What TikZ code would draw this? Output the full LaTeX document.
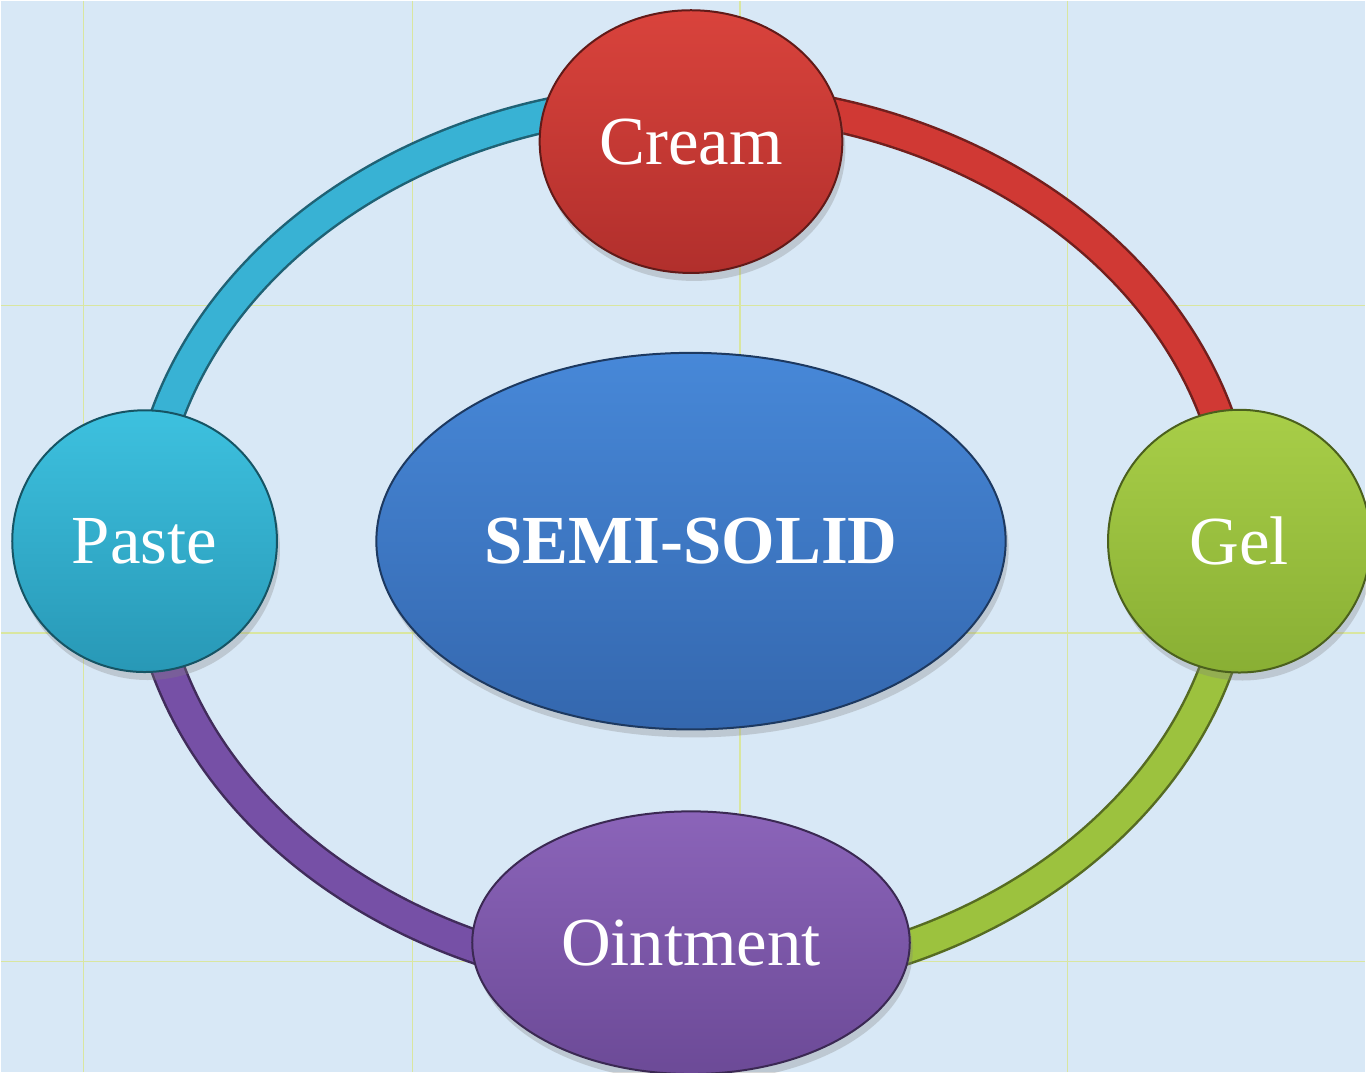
\documentclass[tikz,border=0pt]{standalone}
\usepackage{fontspec}
\setmainfont{Liberation Serif}
\usepackage{xcolor}
\usepackage{tikz}
\usetikzlibrary{arrows,shapes,positioning,shadows}
\definecolor{paper}{HTML}{D8E8F6}
\definecolor{gridtint}{HTML}{D9E6A0}
\definecolor{creamtop}{HTML}{D9433C}
\definecolor{creambot}{HTML}{B12F2C}
\definecolor{geltop}{HTML}{A8CE48}
\definecolor{gelbot}{HTML}{89AF34}
\definecolor{pastetop}{HTML}{3DC1DF}
\definecolor{pastebot}{HTML}{2898B6}
\definecolor{ointtop}{HTML}{8B64B9}
\definecolor{ointbot}{HTML}{6C4A97}
\definecolor{semitop}{HTML}{4788D8}
\definecolor{semibot}{HTML}{3467AE}
\definecolor{ringred}{HTML}{D03934}
\definecolor{ringgreen}{HTML}{9CC23E}
\definecolor{ringpurple}{HTML}{7650A6}
\definecolor{ringcyan}{HTML}{38B2D4}
\pgfdeclarelayer{paperlayer}
\pgfdeclarelayer{ringlayer}
\pgfsetlayers{paperlayer,ringlayer,main}
\tikzstyle{disc} = [ellipse, draw, line width=0.2mm, inner sep=0pt,
    drop shadow={opacity=0.3, shadow xshift=0.3mm, shadow yshift=-0.8mm}]
\tikzstyle{creamdisc} = [disc, top color=creamtop, bottom color=creambot,
    draw=creambot!55!black, minimum width=30.3mm, minimum height=26.3mm]
\tikzstyle{geldisc} = [disc, top color=geltop, bottom color=gelbot,
    draw=gelbot!55!black, minimum width=26.3mm, minimum height=26.3mm]
\tikzstyle{pastedisc} = [disc, top color=pastetop, bottom color=pastebot,
    draw=pastebot!55!black, minimum width=26.5mm, minimum height=26.2mm]
\tikzstyle{ointdisc} = [disc, top color=ointtop, bottom color=ointbot,
    draw=ointbot!55!black, minimum width=43.8mm, minimum height=26.3mm]
\tikzstyle{semidisc} = [disc, top color=semitop, bottom color=semibot,
    draw=semibot!55!black, minimum width=63mm, minimum height=37.7mm]
\tikzstyle{tube} = [line width=0.25mm, double distance=3mm]
\tikzstyle{gridline} = [draw=gridtint, line width=0.15mm]

\begin{document}
\begin{tikzpicture}[x=0.1mm, y=0.1mm]
\tikzstyle{every node}=[font=\fontsize{19.6}{24}\selectfont, text=white]
    % Paper and faint grid
    \begin{pgfonlayer}{paperlayer}
    \fill [paper] (0,0) rectangle (1366,-1072);
    \path [gridline] (83,0) -- (83,-1072);
    \path [gridline] (412,0) -- (412,-1072);
    \path [gridline] (740,0) -- (740,-1072);
    \path [gridline] (1068,0) -- (1068,-1072);
    \path [gridline] (0,-305) -- (1366,-305);
    \path [gridline] (0,-633) -- (1366,-633);
    \path [gridline] (0,-962) -- (1366,-962);
    \end{pgfonlayer}
    \useasboundingbox (0,0) rectangle (1366,-1072);

    % Place nodes
    \node [semidisc] (semi) at (691,-541) {\textbf{SEMI-SOLID}};
    \node [creamdisc, above of=semi, node distance=40mm] (cream) {Cream};
    \node [geldisc, right of=semi, node distance=54.9mm] (gel) {Gel};
    \node [pastedisc, left of=semi, node distance=54.7mm] (paste) {Paste};
    \node [ointdisc, below of=semi, node distance=40.2mm] (oint) {Ointment};

    % Draw ring
    \begin{pgfonlayer}{ringlayer}
    \draw [tube, draw=ringred!55!black, double=ringred] (gel.center)
        arc [start angle=0, end angle=90, x radius=54.8mm, y radius=44.2mm];
    \draw [tube, draw=ringgreen!55!black, double=ringgreen] (gel.center)
        arc [start angle=0, end angle=-90, x radius=54.8mm, y radius=44.2mm];
    \draw [tube, draw=ringpurple!55!black, double=ringpurple] (paste.center)
        arc [start angle=180, end angle=270, x radius=54.8mm, y radius=44.2mm];
    \draw [tube, draw=ringcyan!55!black, double=ringcyan] (paste.center)
        arc [start angle=180, end angle=90, x radius=54.8mm, y radius=44.2mm];
    \end{pgfonlayer}

\end{tikzpicture}
\end{document}
